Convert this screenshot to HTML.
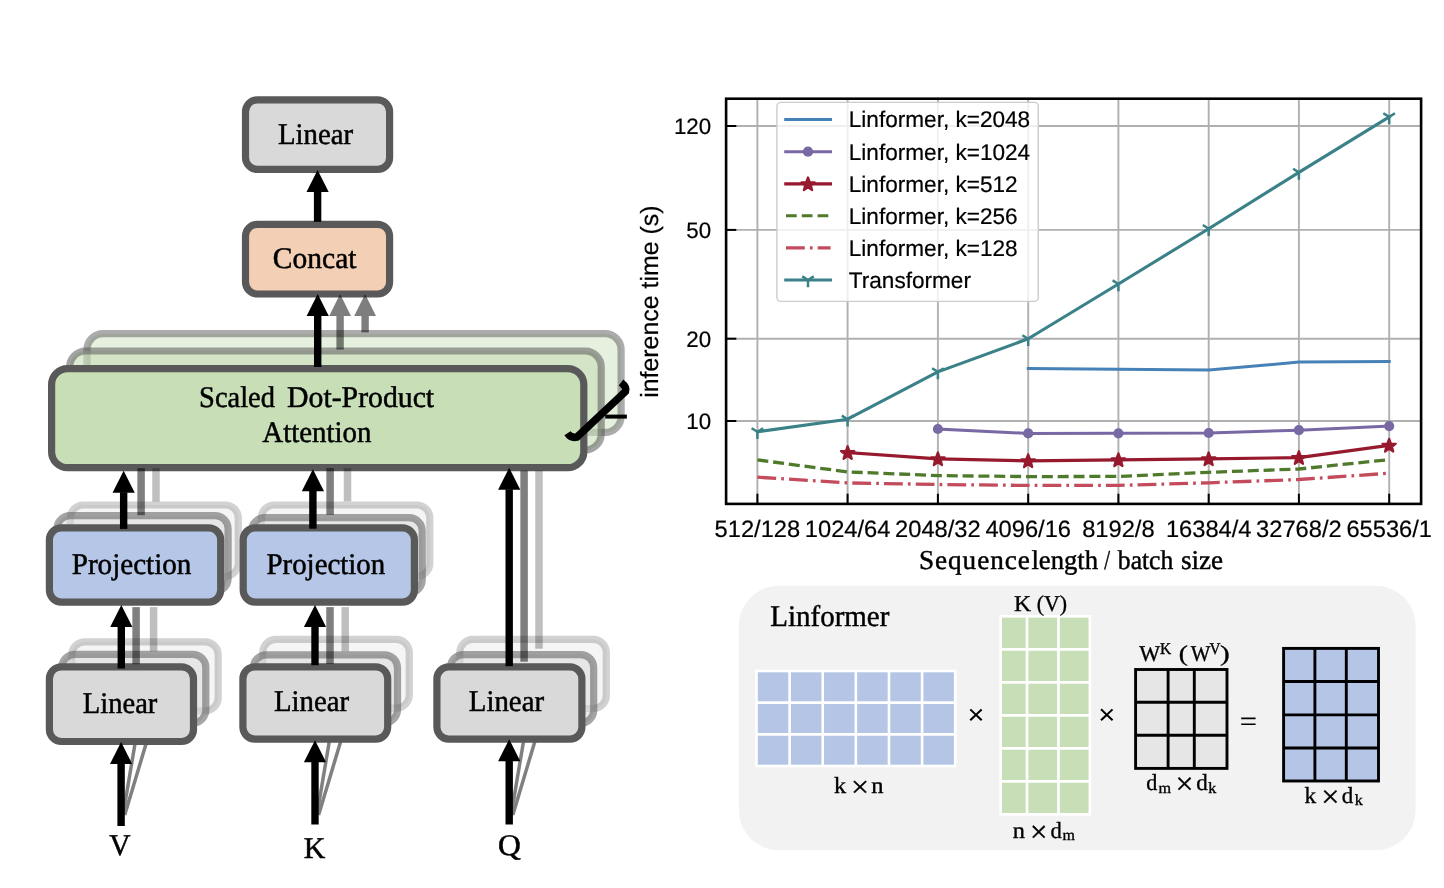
<!DOCTYPE html>
<html><head><meta charset="utf-8"><title>Linformer</title>
<style>html,body{margin:0;padding:0;background:#fff}svg{display:block}text{fill:#000;text-rendering:geometricPrecision}</style>
</head><body>
<svg width="1444" height="888" viewBox="0 0 1444 888">
<rect width="1444" height="888" fill="#fff"/>
<g id="diagram">
<rect x="87.00" y="333.70" width="534.10" height="98.70" rx="16" ry="16" fill="#C8DEB7" stroke="#595959" stroke-width="7.2" fill-opacity="0.45" stroke-opacity="0.5"/>
<rect x="69.60" y="351.00" width="531.60" height="98.90" rx="16" ry="16" fill="#C8DEB7" stroke="#595959" stroke-width="7.2" fill-opacity="0.6" stroke-opacity="0.55"/>
<rect x="71.80" y="641.80" width="146.40" height="69.00" rx="13" ry="13" fill="#D9D9D9" stroke="#595959" stroke-width="7.2" fill-opacity="0.26" stroke-opacity="0.27"/><rect x="61.90" y="654.30" width="143.90" height="68.80" rx="13" ry="13" fill="#D9D9D9" stroke="#595959" stroke-width="7.2" fill-opacity="0.55" stroke-opacity="0.54"/>
<rect x="262.80" y="639.40" width="146.50" height="68.70" rx="13" ry="13" fill="#D9D9D9" stroke="#595959" stroke-width="7.2" fill-opacity="0.26" stroke-opacity="0.27"/><rect x="253.30" y="654.80" width="144.20" height="67.90" rx="13" ry="13" fill="#D9D9D9" stroke="#595959" stroke-width="7.2" fill-opacity="0.55" stroke-opacity="0.54"/>
<rect x="459.80" y="639.40" width="146.50" height="69.10" rx="13" ry="13" fill="#D9D9D9" stroke="#595959" stroke-width="7.2" fill-opacity="0.26" stroke-opacity="0.27"/><rect x="450.30" y="654.60" width="143.40" height="68.60" rx="13" ry="13" fill="#D9D9D9" stroke="#595959" stroke-width="7.2" fill-opacity="0.55" stroke-opacity="0.54"/>
<rect x="70.30" y="505.00" width="168.00" height="71.30" rx="13" ry="13" fill="#D9D9D9" stroke="#595959" stroke-width="7.2" fill-opacity="0.26" stroke-opacity="0.27"/><rect x="57.00" y="515.70" width="171.10" height="75.80" rx="13" ry="13" fill="#D9D9D9" stroke="#595959" stroke-width="7.2" fill-opacity="0.55" stroke-opacity="0.54"/>
<rect x="261.30" y="505.00" width="168.50" height="71.30" rx="13" ry="13" fill="#D9D9D9" stroke="#595959" stroke-width="7.2" fill-opacity="0.26" stroke-opacity="0.27"/><rect x="251.60" y="517.70" width="170.60" height="75.30" rx="13" ry="13" fill="#D9D9D9" stroke="#595959" stroke-width="7.2" fill-opacity="0.55" stroke-opacity="0.54"/>
<line x1="123.0" y1="815" x2="135.47" y2="741" stroke="#808080" stroke-width="3.5"/><line x1="124.7" y1="815" x2="146.90" y2="741" stroke="#808080" stroke-width="3.5"/>
<line x1="316.9" y1="815" x2="329.71" y2="739" stroke="#808080" stroke-width="3.5"/><line x1="318.6" y1="815" x2="341.40" y2="739" stroke="#808080" stroke-width="3.5"/>
<line x1="511.1" y1="815" x2="523.91" y2="739" stroke="#808080" stroke-width="3.5"/><line x1="512.8" y1="815" x2="535.60" y2="739" stroke="#808080" stroke-width="3.5"/>
<rect x="245.50" y="99.80" width="144.10" height="69.60" rx="12" ry="12" fill="#D9D9D9" stroke="#595959" stroke-width="7.2" />
<rect x="245.50" y="224.30" width="144.10" height="69.70" rx="12" ry="12" fill="#F2CFB5" stroke="#595959" stroke-width="7.2" />
<rect x="51.60" y="368.60" width="532.20" height="99.10" rx="16" ry="16" fill="#C8DEB7" stroke="#595959" stroke-width="7.2" />
<rect x="49.40" y="527.90" width="171.30" height="74.20" rx="12" ry="12" fill="#B5C6E6" stroke="#595959" stroke-width="7.2" />
<rect x="243.20" y="527.90" width="171.20" height="74.20" rx="12" ry="12" fill="#B5C6E6" stroke="#595959" stroke-width="7.2" />
<rect x="49.40" y="666.80" width="144.10" height="74.70" rx="12" ry="12" fill="#D9D9D9" stroke="#595959" stroke-width="7.2" />
<rect x="242.90" y="666.80" width="144.80" height="72.30" rx="12" ry="12" fill="#D9D9D9" stroke="#595959" stroke-width="7.2" />
<rect x="436.90" y="666.90" width="145.00" height="72.20" rx="12" ry="12" fill="#D9D9D9" stroke="#595959" stroke-width="7.2" />
<rect x="132.35" y="607.10" width="7.5" height="57.10" fill="#000" fill-opacity="0.5"/>
<rect x="149.85" y="607.10" width="7.5" height="44.20" fill="#000" fill-opacity="0.25"/>
<rect x="326.25" y="607.10" width="7.5" height="57.00" fill="#000" fill-opacity="0.5"/>
<rect x="341.45" y="607.10" width="7.5" height="44.20" fill="#000" fill-opacity="0.25"/>
<rect x="137.35" y="468.10" width="7.5" height="47.10" fill="#000" fill-opacity="0.5"/>
<rect x="152.25" y="468.10" width="7.5" height="33.60" fill="#000" fill-opacity="0.25"/>
<rect x="326.35" y="468.10" width="7.5" height="46.70" fill="#000" fill-opacity="0.5"/>
<rect x="343.75" y="468.10" width="7.5" height="33.30" fill="#000" fill-opacity="0.25"/>
<rect x="520.35" y="470.60" width="7.5" height="191.10" fill="#000" fill-opacity="0.5"/>
<rect x="535.25" y="470.60" width="7.5" height="178.10" fill="#000" fill-opacity="0.25"/>
<g opacity="0.5"><rect x="336.40" y="315.50" width="7.4" height="34.10" fill="#000"/><polygon points="340.10,294.00 329.20,316.00 351.00,316.00" fill="#000"/></g>
<g opacity="0.5"><rect x="361.40" y="315.50" width="7.4" height="16.90" fill="#000"/><polygon points="365.10,294.00 354.20,316.00 376.00,316.00" fill="#000"/></g>
<g ><rect x="313.90" y="191.50" width="7.4" height="30.30" fill="#000"/><polygon points="317.60,170.00 306.50,192.00 328.70,192.00" fill="#000"/></g>
<g ><rect x="314.00" y="315.50" width="7.4" height="51.50" fill="#000"/><polygon points="317.70,294.00 306.60,316.00 328.80,316.00" fill="#000"/></g>
<g ><rect x="119.95" y="492.30" width="7.4" height="36.60" fill="#000"/><polygon points="123.65,470.80 112.55,492.80 134.75,492.80" fill="#000"/></g>
<g ><rect x="309.20" y="490.70" width="7.4" height="38.00" fill="#000"/><polygon points="312.90,469.20 301.80,491.20 324.00,491.20" fill="#000"/></g>
<g ><rect x="505.50" y="489.30" width="7.4" height="176.90" fill="#000"/><polygon points="509.20,467.80 498.10,489.80 520.30,489.80" fill="#000"/></g>
<g ><rect x="117.60" y="626.60" width="7.4" height="41.90" fill="#000"/><polygon points="121.30,605.10 110.20,627.10 132.40,627.10" fill="#000"/></g>
<g ><rect x="311.30" y="626.60" width="7.4" height="38.60" fill="#000"/><polygon points="315.00,605.10 303.90,627.10 326.10,627.10" fill="#000"/></g>
<g ><rect x="117.40" y="763.50" width="7.4" height="62.50" fill="#000"/><polygon points="121.10,742.00 110.00,764.00 132.20,764.00" fill="#000"/></g>
<g ><rect x="311.30" y="761.70" width="7.4" height="62.80" fill="#000"/><polygon points="315.00,740.20 303.90,762.20 326.10,762.20" fill="#000"/></g>
<g ><rect x="505.50" y="760.80" width="7.4" height="63.70" fill="#000"/><polygon points="509.20,739.30 498.10,761.30 520.30,761.30" fill="#000"/></g>
<path d="M567.5 433.2 Q571 438.5 577 437.1 L625.5 391.5 Q627 387 621 382.5" fill="none" stroke="#000" stroke-width="7.5"/>
<line x1="605.2" y1="416.6" x2="626.9" y2="416.6" stroke="#000" stroke-width="4"/>
<g font-family='"Liberation Serif", serif' stroke="#000" stroke-width="0.5"><text x="277.89" y="144.1" font-size="30.0" textLength="75.18" lengthAdjust="spacingAndGlyphs">Linear</text></g>
<g font-family='"Liberation Serif", serif' stroke="#000" stroke-width="0.5"><text x="272.85" y="267.6" font-size="30.0" textLength="83.6" lengthAdjust="spacingAndGlyphs">Concat</text></g>
<g font-family='"Liberation Serif", serif' stroke="#000" stroke-width="0.5"><text x="199.05" y="406.8" font-size="30.0" textLength="75.94" lengthAdjust="spacingAndGlyphs">Scaled</text><text x="287.11" y="406.8" font-size="30.0" textLength="147.03" lengthAdjust="spacingAndGlyphs">Dot-Product</text></g>
<g font-family='"Liberation Serif", serif' stroke="#000" stroke-width="0.5"><text x="262.33" y="441.7" font-size="30.0" textLength="109.1" lengthAdjust="spacingAndGlyphs">Attention</text></g>
<g font-family='"Liberation Serif", serif' stroke="#000" stroke-width="0.5"><text x="71.74" y="573.8" font-size="30.0" textLength="119.67" lengthAdjust="spacingAndGlyphs">Projection</text></g>
<g font-family='"Liberation Serif", serif' stroke="#000" stroke-width="0.5"><text x="266.47" y="573.8" font-size="30.0" textLength="118.8" lengthAdjust="spacingAndGlyphs">Projection</text></g>
<g font-family='"Liberation Serif", serif' stroke="#000" stroke-width="0.5"><text x="82.83" y="712.8" font-size="30.0" textLength="74.47" lengthAdjust="spacingAndGlyphs">Linear</text></g>
<g font-family='"Liberation Serif", serif' stroke="#000" stroke-width="0.5"><text x="273.92" y="710.7" font-size="30.0" textLength="75.16" lengthAdjust="spacingAndGlyphs">Linear</text></g>
<g font-family='"Liberation Serif", serif' stroke="#000" stroke-width="0.5"><text x="468.8" y="710.7" font-size="30.0" textLength="75.24" lengthAdjust="spacingAndGlyphs">Linear</text></g>
<g font-family='"Liberation Serif", serif' stroke="#000" stroke-width="0.5"><text x="109.27" y="855.2" font-size="30.0" textLength="21.28" lengthAdjust="spacingAndGlyphs">V</text></g>
<g font-family='"Liberation Serif", serif' stroke="#000" stroke-width="0.5"><text x="303.82" y="857.7" font-size="30.0" textLength="21.58" lengthAdjust="spacingAndGlyphs">K</text></g>
<g font-family='"Liberation Serif", serif' stroke="#000" stroke-width="0.5"><text x="498.13" y="854.6" font-size="30.0" textLength="22.81" lengthAdjust="spacingAndGlyphs">Q</text></g>

</g>
<g id="chart">
<line x1="757.4" y1="98.7" x2="757.4" y2="503.9" stroke="#b0b0b0" stroke-width="1.9"/>
<line x1="847.6" y1="98.7" x2="847.6" y2="503.9" stroke="#b0b0b0" stroke-width="1.9"/>
<line x1="937.9" y1="98.7" x2="937.9" y2="503.9" stroke="#b0b0b0" stroke-width="1.9"/>
<line x1="1028.2" y1="98.7" x2="1028.2" y2="503.9" stroke="#b0b0b0" stroke-width="1.9"/>
<line x1="1118.4" y1="98.7" x2="1118.4" y2="503.9" stroke="#b0b0b0" stroke-width="1.9"/>
<line x1="1208.7" y1="98.7" x2="1208.7" y2="503.9" stroke="#b0b0b0" stroke-width="1.9"/>
<line x1="1298.9" y1="98.7" x2="1298.9" y2="503.9" stroke="#b0b0b0" stroke-width="1.9"/>
<line x1="1389.2" y1="98.7" x2="1389.2" y2="503.9" stroke="#b0b0b0" stroke-width="1.9"/>
<line x1="726.1" y1="421.0" x2="1421.1" y2="421.0" stroke="#b0b0b0" stroke-width="1.9"/>
<line x1="726.1" y1="338.7" x2="1421.1" y2="338.7" stroke="#b0b0b0" stroke-width="1.9"/>
<line x1="726.1" y1="229.9" x2="1421.1" y2="229.9" stroke="#b0b0b0" stroke-width="1.9"/>
<line x1="726.1" y1="126.0" x2="1421.1" y2="126.0" stroke="#b0b0b0" stroke-width="1.9"/>
<polyline points="1028.2,368.4 1118.4,369.3 1208.7,370.0 1298.9,362.1 1389.2,361.5" fill="none" stroke="#4682B8" stroke-width="3.0" stroke-opacity="1" stroke-linejoin="round" stroke-linecap="square"/>
<polyline points="937.9,429.0 1028.2,433.4 1118.4,433.3 1208.7,433.0 1298.9,430.2 1389.2,426.1" fill="none" stroke="#7869A5" stroke-width="3.0" stroke-opacity="1" stroke-linejoin="round" stroke-linecap="square"/>
<circle cx="937.9" cy="429.0" r="5.1" fill="#7869A5" opacity="1"/>
<circle cx="1028.2" cy="433.4" r="5.1" fill="#7869A5" opacity="1"/>
<circle cx="1118.4" cy="433.3" r="5.1" fill="#7869A5" opacity="1"/>
<circle cx="1208.7" cy="433.0" r="5.1" fill="#7869A5" opacity="1"/>
<circle cx="1298.9" cy="430.2" r="5.1" fill="#7869A5" opacity="1"/>
<circle cx="1389.2" cy="426.1" r="5.1" fill="#7869A5" opacity="1"/>
<polyline points="847.6,452.6 937.9,458.9 1028.2,460.8 1118.4,459.8 1208.7,458.9 1298.9,457.6 1389.2,445.3" fill="none" stroke="#96192D" stroke-width="3.2" stroke-opacity="1" stroke-linejoin="round" stroke-linecap="square"/>
<polygon points="847.65,446.20 849.38,450.81 854.31,451.04 850.46,454.11 851.76,458.86 847.65,456.15 843.54,458.86 844.84,454.11 840.99,451.04 845.92,450.81" fill="#96192D" stroke="#96192D" stroke-width="2.2" stroke-linejoin="round" opacity="1"/>
<polygon points="937.90,452.50 939.63,457.11 944.56,457.34 940.71,460.41 942.01,465.16 937.90,462.45 933.79,465.16 935.09,460.41 931.24,457.34 936.17,457.11" fill="#96192D" stroke="#96192D" stroke-width="2.2" stroke-linejoin="round" opacity="1"/>
<polygon points="1028.15,454.40 1029.88,459.01 1034.81,459.24 1030.96,462.31 1032.26,467.06 1028.15,464.35 1024.04,467.06 1025.34,462.31 1021.49,459.24 1026.42,459.01" fill="#96192D" stroke="#96192D" stroke-width="2.2" stroke-linejoin="round" opacity="1"/>
<polygon points="1118.40,453.40 1120.13,458.01 1125.06,458.24 1121.21,461.31 1122.51,466.06 1118.40,463.35 1114.29,466.06 1115.59,461.31 1111.74,458.24 1116.67,458.01" fill="#96192D" stroke="#96192D" stroke-width="2.2" stroke-linejoin="round" opacity="1"/>
<polygon points="1208.65,452.50 1210.38,457.11 1215.31,457.34 1211.46,460.41 1212.76,465.16 1208.65,462.45 1204.54,465.16 1205.84,460.41 1201.99,457.34 1206.92,457.11" fill="#96192D" stroke="#96192D" stroke-width="2.2" stroke-linejoin="round" opacity="1"/>
<polygon points="1298.90,451.20 1300.63,455.81 1305.56,456.04 1301.71,459.11 1303.01,463.86 1298.90,461.15 1294.79,463.86 1296.09,459.11 1292.24,456.04 1297.17,455.81" fill="#96192D" stroke="#96192D" stroke-width="2.2" stroke-linejoin="round" opacity="1"/>
<polygon points="1389.15,438.90 1390.88,443.51 1395.81,443.74 1391.96,446.81 1393.26,451.56 1389.15,448.85 1385.04,451.56 1386.34,446.81 1382.49,443.74 1387.42,443.51" fill="#96192D" stroke="#96192D" stroke-width="2.2" stroke-linejoin="round" opacity="1"/>
<polyline points="757.4,459.9 847.6,471.9 937.9,475.6 1028.2,476.6 1118.4,476.4 1208.7,472.3 1298.9,469.0 1389.2,459.6" fill="none" stroke="#4F7A2B" stroke-width="3.3" stroke-opacity="1" stroke-linejoin="round" stroke-linecap="butt" stroke-dasharray="11 4.85"/>
<polyline points="757.4,477.2 847.6,482.9 937.9,484.5 1028.2,485.4 1118.4,485.4 1208.7,482.8 1298.9,479.5 1389.2,473.2" fill="none" stroke="#C44B5B" stroke-width="3.3" stroke-opacity="1" stroke-linejoin="round" stroke-linecap="butt" stroke-dasharray="18.8 5.1 2.7 5.1"/>
<polyline points="757.4,431.8 847.6,419.2 937.9,371.9 1028.2,338.8 1118.4,284.0 1208.7,228.7 1298.9,172.4 1389.2,116.9" fill="none" stroke="#3B8188" stroke-width="3.1" stroke-opacity="1" stroke-linejoin="round" stroke-linecap="square"/>
<path d="M757.4 431.8 L757.4 439.1 M757.4 431.8 L751.6 428.2 M757.4 431.8 L763.2 428.2" stroke="#3B8188" stroke-width="2.5" fill="none" opacity="1"/>
<path d="M847.6 419.2 L847.6 426.5 M847.6 419.2 L841.8 415.6 M847.6 419.2 L853.5 415.6" stroke="#3B8188" stroke-width="2.5" fill="none" opacity="1"/>
<path d="M937.9 371.9 L937.9 379.2 M937.9 371.9 L932.1 368.2 M937.9 371.9 L943.7 368.2" stroke="#3B8188" stroke-width="2.5" fill="none" opacity="1"/>
<path d="M1028.2 338.8 L1028.2 346.1 M1028.2 338.8 L1022.3 335.2 M1028.2 338.8 L1034.0 335.2" stroke="#3B8188" stroke-width="2.5" fill="none" opacity="1"/>
<path d="M1118.4 284.0 L1118.4 291.3 M1118.4 284.0 L1112.6 280.4 M1118.4 284.0 L1124.2 280.4" stroke="#3B8188" stroke-width="2.5" fill="none" opacity="1"/>
<path d="M1208.7 228.7 L1208.7 236.0 M1208.7 228.7 L1202.8 225.0 M1208.7 228.7 L1214.5 225.0" stroke="#3B8188" stroke-width="2.5" fill="none" opacity="1"/>
<path d="M1298.9 172.4 L1298.9 179.7 M1298.9 172.4 L1293.1 168.8 M1298.9 172.4 L1304.7 168.8" stroke="#3B8188" stroke-width="2.5" fill="none" opacity="1"/>
<path d="M1389.2 116.9 L1389.2 124.2 M1389.2 116.9 L1383.3 113.2 M1389.2 116.9 L1395.0 113.2" stroke="#3B8188" stroke-width="2.5" fill="none" opacity="1"/>
<rect x="726.1" y="98.7" width="694.9999999999999" height="405.2" fill="none" stroke="#000" stroke-width="2.6"/>
<line x1="757.4" y1="503.9" x2="757.4" y2="493.7" stroke="#000" stroke-width="2"/>
<line x1="847.6" y1="503.9" x2="847.6" y2="493.7" stroke="#000" stroke-width="2"/>
<line x1="937.9" y1="503.9" x2="937.9" y2="493.7" stroke="#000" stroke-width="2"/>
<line x1="1028.2" y1="503.9" x2="1028.2" y2="493.7" stroke="#000" stroke-width="2"/>
<line x1="1118.4" y1="503.9" x2="1118.4" y2="493.7" stroke="#000" stroke-width="2"/>
<line x1="1208.7" y1="503.9" x2="1208.7" y2="493.7" stroke="#000" stroke-width="2"/>
<line x1="1298.9" y1="503.9" x2="1298.9" y2="493.7" stroke="#000" stroke-width="2"/>
<line x1="1389.2" y1="503.9" x2="1389.2" y2="493.7" stroke="#000" stroke-width="2"/>
<line x1="726.1" y1="421.0" x2="736.3000000000001" y2="421.0" stroke="#000" stroke-width="2"/>
<text x="711.1" y="429.3" font-family='"Liberation Sans", sans-serif' font-size="22.3" text-anchor="end" stroke="#000" stroke-width="0.2">10</text>
<line x1="726.1" y1="338.7" x2="736.3000000000001" y2="338.7" stroke="#000" stroke-width="2"/>
<text x="711.1" y="347.0" font-family='"Liberation Sans", sans-serif' font-size="22.3" text-anchor="end" stroke="#000" stroke-width="0.2">20</text>
<line x1="726.1" y1="229.9" x2="736.3000000000001" y2="229.9" stroke="#000" stroke-width="2"/>
<text x="711.1" y="238.2" font-family='"Liberation Sans", sans-serif' font-size="22.3" text-anchor="end" stroke="#000" stroke-width="0.2">50</text>
<line x1="726.1" y1="126.0" x2="736.3000000000001" y2="126.0" stroke="#000" stroke-width="2"/>
<text x="711.1" y="134.3" font-family='"Liberation Sans", sans-serif' font-size="22.3" text-anchor="end" stroke="#000" stroke-width="0.2">120</text>
<text x="757.4" y="537.0" font-family='"Liberation Sans", sans-serif' font-size="23.7" text-anchor="middle" stroke="#000" stroke-width="0.2">512/128</text>
<text x="847.6" y="537.0" font-family='"Liberation Sans", sans-serif' font-size="23.7" text-anchor="middle" stroke="#000" stroke-width="0.2">1024/64</text>
<text x="937.9" y="537.0" font-family='"Liberation Sans", sans-serif' font-size="23.7" text-anchor="middle" stroke="#000" stroke-width="0.2">2048/32</text>
<text x="1028.2" y="537.0" font-family='"Liberation Sans", sans-serif' font-size="23.7" text-anchor="middle" stroke="#000" stroke-width="0.2">4096/16</text>
<text x="1118.4" y="537.0" font-family='"Liberation Sans", sans-serif' font-size="23.7" text-anchor="middle" stroke="#000" stroke-width="0.2">8192/8</text>
<text x="1208.7" y="537.0" font-family='"Liberation Sans", sans-serif' font-size="23.7" text-anchor="middle" stroke="#000" stroke-width="0.2">16384/4</text>
<text x="1298.9" y="537.0" font-family='"Liberation Sans", sans-serif' font-size="23.7" text-anchor="middle" stroke="#000" stroke-width="0.2">32768/2</text>
<text x="1389.2" y="537.0" font-family='"Liberation Sans", sans-serif' font-size="23.7" text-anchor="middle" stroke="#000" stroke-width="0.2">65536/1</text>
<g font-family='"Liberation Serif", serif' stroke="#000" stroke-width="0.45"><text x="918.93" y="568.6" font-size="27.2" textLength="110.97" lengthAdjust="spacing">Sequence</text><text x="1031.46" y="568.6" font-size="27.2" textLength="66.62" lengthAdjust="spacingAndGlyphs">length</text><text x="1104.32" y="568.6" font-size="27.2" textLength="5.78" lengthAdjust="spacingAndGlyphs">/</text><text x="1117.87" y="568.6" font-size="27.2" textLength="55.36" lengthAdjust="spacingAndGlyphs">batch</text><text x="1180.94" y="568.6" font-size="27.2" textLength="42.11" lengthAdjust="spacingAndGlyphs">size</text></g>

<text transform="translate(657.9,301.7) rotate(-90)" font-family='"Liberation Sans", sans-serif' font-size="24.9" text-anchor="middle" stroke="#000" stroke-width="0.2">inference time (s)</text>
<rect x="776.9" y="102.4" width="261.4" height="199.0" rx="4" ry="4" fill="#fff" fill-opacity="0.8" stroke="#ccc" stroke-width="1.4"/>
<line x1="784.2" y1="119.6" x2="832" y2="119.6" stroke="#4682B8" stroke-width="3.0" stroke-opacity="1"/>
<text x="848.8" y="127.39999999999999" font-family='"Liberation Sans", sans-serif' font-size="22.58" text-anchor="start" stroke="#000" stroke-width="0.2">Linformer, k=2048</text>
<line x1="784.2" y1="151.7" x2="832" y2="151.7" stroke="#7869A5" stroke-width="3.0" stroke-opacity="1"/>
<circle cx="808" cy="151.7" r="5.1" fill="#7869A5" opacity="1"/>
<text x="848.8" y="159.5" font-family='"Liberation Sans", sans-serif' font-size="22.58" text-anchor="start" stroke="#000" stroke-width="0.2">Linformer, k=1024</text>
<line x1="784.2" y1="183.9" x2="832" y2="183.9" stroke="#96192D" stroke-width="3.1" stroke-opacity="1"/>
<polygon points="808.00,177.50 809.73,182.11 814.66,182.34 810.81,185.41 812.11,190.16 808.00,187.45 803.89,190.16 805.19,185.41 801.34,182.34 806.27,182.11" fill="#96192D" stroke="#96192D" stroke-width="2.2" stroke-linejoin="round" opacity="1"/>
<text x="848.8" y="191.70000000000002" font-family='"Liberation Sans", sans-serif' font-size="22.58" text-anchor="start" stroke="#000" stroke-width="0.2">Linformer, k=512</text>
<line x1="786" y1="215.8" x2="828.3" y2="215.8" stroke="#4F7A2B" stroke-width="3.1" stroke-opacity="1" stroke-dasharray="10.7 5.1"/>
<text x="848.8" y="223.60000000000002" font-family='"Liberation Sans", sans-serif' font-size="22.58" text-anchor="start" stroke="#000" stroke-width="0.2">Linformer, k=256</text>
<line x1="786" y1="247.9" x2="830.6" y2="247.9" stroke="#C44B5B" stroke-width="3.1" stroke-opacity="1" stroke-dasharray="18.8 5.1 2.7 5.1"/>
<text x="848.8" y="255.70000000000002" font-family='"Liberation Sans", sans-serif' font-size="22.58" text-anchor="start" stroke="#000" stroke-width="0.2">Linformer, k=128</text>
<line x1="784.2" y1="280.0" x2="832" y2="280.0" stroke="#3B8188" stroke-width="3.1" stroke-opacity="1"/>
<path d="M808.0 280.0 L808.0 287.3 M808.0 280.0 L802.2 276.4 M808.0 280.0 L813.8 276.4" stroke="#3B8188" stroke-width="2.5" fill="none" opacity="1"/>
<text x="848.8" y="287.8" font-family='"Liberation Sans", sans-serif' font-size="22.58" text-anchor="start" stroke="#000" stroke-width="0.2">Transformer</text>
</g>
<g id="panel">
<rect x="738.8" y="585.7" width="676.9" height="264.5" rx="40" ry="40" fill="#F2F2F2"/>
<rect x="756.5" y="671" width="198.70000000000005" height="95" fill="#B4C5E5" stroke="#fff" stroke-width="2.6"/><line x1="789.6166666666667" y1="671" x2="789.6166666666667" y2="766" stroke="#fff" stroke-width="2.6"/><line x1="822.7333333333333" y1="671" x2="822.7333333333333" y2="766" stroke="#fff" stroke-width="2.6"/><line x1="855.85" y1="671" x2="855.85" y2="766" stroke="#fff" stroke-width="2.6"/><line x1="888.9666666666667" y1="671" x2="888.9666666666667" y2="766" stroke="#fff" stroke-width="2.6"/><line x1="922.0833333333334" y1="671" x2="922.0833333333334" y2="766" stroke="#fff" stroke-width="2.6"/><line x1="756.5" y1="702.6666666666666" x2="955.2" y2="702.6666666666666" stroke="#fff" stroke-width="2.6"/><line x1="756.5" y1="734.3333333333334" x2="955.2" y2="734.3333333333334" stroke="#fff" stroke-width="2.6"/>
<rect x="1000.6" y="616.3" width="89.30000000000007" height="198.0" fill="#C8DEB7" stroke="#fff" stroke-width="2.7"/><line x1="1027.05" y1="616.3" x2="1027.05" y2="814.3" stroke="#fff" stroke-width="2.7"/><line x1="1058.45" y1="616.3" x2="1058.45" y2="814.3" stroke="#fff" stroke-width="2.7"/><line x1="1000.6" y1="649.3" x2="1089.9" y2="649.3" stroke="#fff" stroke-width="2.7"/><line x1="1000.6" y1="682.3" x2="1089.9" y2="682.3" stroke="#fff" stroke-width="2.7"/><line x1="1000.6" y1="715.3" x2="1089.9" y2="715.3" stroke="#fff" stroke-width="2.7"/><line x1="1000.6" y1="748.3" x2="1089.9" y2="748.3" stroke="#fff" stroke-width="2.7"/><line x1="1000.6" y1="781.3" x2="1089.9" y2="781.3" stroke="#fff" stroke-width="2.7"/>
<rect x="1135.6" y="669.5" width="91.40000000000009" height="98.89999999999998" fill="#E6E6E6" stroke="#000" stroke-width="2.9"/><line x1="1168.1" y1="669.5" x2="1168.1" y2="768.4" stroke="#000" stroke-width="2.9"/><line x1="1194.3" y1="669.5" x2="1194.3" y2="768.4" stroke="#000" stroke-width="2.9"/><line x1="1135.6" y1="702.2" x2="1227.0" y2="702.2" stroke="#000" stroke-width="2.9"/><line x1="1135.6" y1="735.2" x2="1227.0" y2="735.2" stroke="#000" stroke-width="2.9"/>
<rect x="1283.6" y="648.4" width="94.90000000000009" height="132.60000000000002" fill="#B4C5E5" stroke="#000" stroke-width="2.9"/><line x1="1314.9" y1="648.4" x2="1314.9" y2="781.0" stroke="#000" stroke-width="2.9"/><line x1="1346.3" y1="648.4" x2="1346.3" y2="781.0" stroke="#000" stroke-width="2.9"/><line x1="1283.6" y1="681.5" x2="1378.5" y2="681.5" stroke="#000" stroke-width="2.9"/><line x1="1283.6" y1="714.9" x2="1378.5" y2="714.9" stroke="#000" stroke-width="2.9"/><line x1="1283.6" y1="748" x2="1378.5" y2="748" stroke="#000" stroke-width="2.9"/>
<g font-family='"Liberation Serif", serif' stroke="#000" stroke-width="0.45"><text x="770.31" y="625.7" font-size="30" textLength="119.05" lengthAdjust="spacingAndGlyphs">Linformer</text></g>
<g font-family='"Liberation Serif", serif' stroke="#000" stroke-width="0.35"><text x="833.91" y="792.7" font-size="23" textLength="12.11" lengthAdjust="spacingAndGlyphs">k</text><text x="851.0" y="796.6" font-size="30.47" textLength="18.02" lengthAdjust="spacingAndGlyphs">×</text><text x="871.19" y="792.7" font-size="23" textLength="12.22" lengthAdjust="spacingAndGlyphs">n</text></g>
<g font-family='"Liberation Serif", serif' stroke="#000" stroke-width="0.35"><text x="1014.07" y="610.8" font-size="22.6" textLength="17.11" lengthAdjust="spacingAndGlyphs">K</text><text x="1036.76" y="610.8" font-size="22.6" textLength="30.42" lengthAdjust="spacingAndGlyphs">(V)</text></g>
<g font-family='"Liberation Serif", serif' stroke="#000" stroke-width="0.35"><text x="1012.84" y="838.1" font-size="23" textLength="12.14" lengthAdjust="spacingAndGlyphs">n</text><text x="1030.0" y="841.69" font-size="30.62" textLength="17.45" lengthAdjust="spacingAndGlyphs">×</text><text x="1050.47" y="838.1" font-size="23" textLength="11.29" lengthAdjust="spacingAndGlyphs">d</text><text x="1062.54" y="839.9" font-size="15.5" textLength="12.46" lengthAdjust="spacingAndGlyphs">m</text></g>
<g font-family='"Liberation Serif", serif' stroke="#000" stroke-width="0.35"><text x="1139.16" y="660.6" font-size="22.6" textLength="20.96" lengthAdjust="spacingAndGlyphs">W</text><text x="1160.11" y="653.7" font-size="16.5" textLength="11.21" lengthAdjust="spacingAndGlyphs">K</text><text x="1178.73" y="660.6" font-size="22.6" textLength="9.17" lengthAdjust="spacingAndGlyphs">(</text><text x="1190.75" y="660.6" font-size="22.6" textLength="19.69" lengthAdjust="spacingAndGlyphs">W</text><text x="1209.42" y="653.7" font-size="16.5" textLength="11.01" lengthAdjust="spacingAndGlyphs">V</text><text x="1220.13" y="660.6" font-size="22.6" textLength="9.67" lengthAdjust="spacingAndGlyphs">)</text></g>
<g font-family='"Liberation Serif", serif' stroke="#000" stroke-width="0.35"><text x="1146.34" y="789.5" font-size="23" textLength="11.08" lengthAdjust="spacingAndGlyphs">d</text><text x="1158.49" y="792.8" font-size="15.5" textLength="12.58" lengthAdjust="spacingAndGlyphs">m</text><text x="1175.57" y="793.53" font-size="31.1" textLength="18.01" lengthAdjust="spacingAndGlyphs">×</text><text x="1196.23" y="789.5" font-size="23" textLength="11.49" lengthAdjust="spacingAndGlyphs">d</text><text x="1208.25" y="792.8" font-size="15.5" textLength="8.07" lengthAdjust="spacingAndGlyphs">k</text></g>
<g font-family='"Liberation Serif", serif' stroke="#000" stroke-width="0.35"><text x="1304.47" y="802.8" font-size="23" textLength="11.59" lengthAdjust="spacingAndGlyphs">k</text><text x="1321.39" y="807.34" font-size="31.28" textLength="18.16" lengthAdjust="spacingAndGlyphs">×</text><text x="1341.82" y="802.8" font-size="23" textLength="11.49" lengthAdjust="spacingAndGlyphs">d</text><text x="1354.78" y="804.9" font-size="15.5" textLength="8.03" lengthAdjust="spacingAndGlyphs">k</text></g>
<g font-family='"Liberation Sans", sans-serif'><text x="967.53" y="724.2" font-size="27.55" textLength="16.92" lengthAdjust="spacingAndGlyphs">×</text></g>
<g font-family='"Liberation Sans", sans-serif'><text x="1098.31" y="724.09" font-size="27.69" textLength="17.06" lengthAdjust="spacingAndGlyphs">×</text></g>
<g font-family='"Liberation Sans", sans-serif'><text x="1239.89" y="729.27" font-size="23.44" textLength="17.31" lengthAdjust="spacingAndGlyphs">=</text></g>

</g>
</svg>
</body></html>
